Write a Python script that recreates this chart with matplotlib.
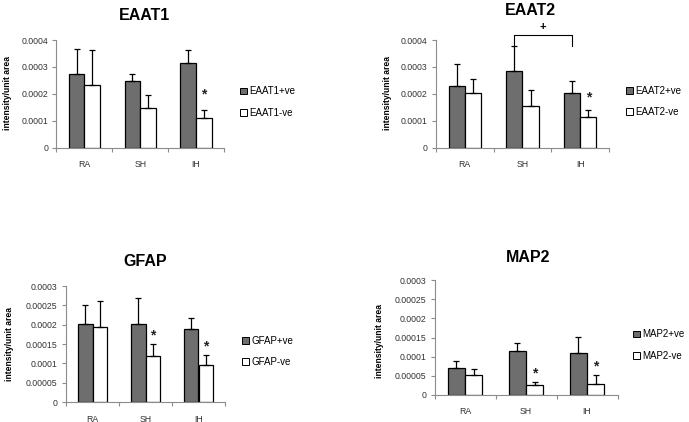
import matplotlib
matplotlib.use("Agg")
import matplotlib.pyplot as plt
from matplotlib.patches import Patch

plt.rcParams['font.family'] = ['Liberation Sans', 'DejaVu Sans']

categories = ["RA", "SH", "IH"]

eaat1_pos = [0.000272, 0.000248, 0.000315]
eaat1_pos_err = [0.000096, 0.000024, 0.000049]
eaat1_neg = [0.000233, 0.000149, 0.000109]
eaat1_neg_err = [0.000129, 0.000047, 0.000030]

eaat2_pos = [0.000229, 0.000286, 0.000202]
eaat2_pos_err = [0.000083, 0.000090, 0.000044]
eaat2_neg = [0.000202, 0.000155, 0.000115]
eaat2_neg_err = [0.000054, 0.000059, 0.000024]

gfap_pos = [0.000201, 0.000203, 0.000189]
gfap_pos_err = [0.000051, 0.000065, 0.000027]
gfap_neg = [0.000194, 0.000120, 0.000095]
gfap_neg_err = [0.000067, 0.000031, 0.000027]

map2_pos = [0.000070, 0.000116, 0.000109]
map2_pos_err = [0.000019, 0.000019, 0.000042]
map2_neg = [0.000051, 0.000026, 0.000030]
map2_neg_err = [0.000018, 0.000009, 0.000021]

eaat1_yticks = [0, 0.0001, 0.0002, 0.0003, 0.0004]
eaat1_ylabels = ["0", "0.0001", "0.0002", "0.0003", "0.0004"]
gfap_yticks = [0, 0.00005, 0.0001, 0.00015, 0.0002, 0.00025, 0.0003]
gfap_ylabels = ["0", "0.00005", "0.0001", "0.00015", "0.0002", "0.00025", "0.0003"]

# stars: (category index, y)
eaat1_stars = [(2, 0.000196)]
eaat2_stars = [(2, 0.000187)]
gfap_stars = [(1, 0.000173), (2, 0.000143)]
map2_stars = [(1, 0.000056), (2, 0.000074)]

W, H = 689, 422
fig = plt.figure(figsize=(W / 100, H / 100), dpi=100)

GRAY = "#6e6e6e"
AX = "#8c8c8c"


def fx(px):
    return px / W


def fy(py):
    return 1 - py / H


def panel(rect, name, pos, pos_err, neg, neg_err, yticks, ylabels, ymax,
          stars, title_xy, ylab_xy, leg_xy):
    left, right, top, bottom = rect
    ax = fig.add_axes([fx(left), fy(bottom), fx(right - left), (bottom - top) / H])
    x = list(range(len(categories)))
    bw = 0.28
    ekw = dict(elinewidth=0.9, capthick=0.9, capsize=2.5, ecolor="black")
    ax.bar([i - bw / 2 for i in x], pos, bw, color=GRAY, edgecolor="black",
           linewidth=0.9, yerr=[[0] * 3, pos_err], error_kw=ekw, zorder=2)
    ax.bar([i + bw / 2 for i in x], neg, bw, color="white", edgecolor="black",
           linewidth=0.9, yerr=[[0] * 3, neg_err], error_kw=ekw, zorder=2)
    ax.set_xlim(-0.5, 2.5)
    ax.set_ylim(0, ymax)
    ax.set_yticks(yticks)
    ax.set_yticklabels(ylabels)
    ax.set_xticks(x)
    ax.set_xticklabels(categories)
    ax.set_xticks([-0.5, 0.5, 1.5, 2.5], minor=True)
    ax.tick_params(axis="x", which="major", length=0, labelsize=6.3, pad=9, colors="#333333")
    ax.tick_params(axis="x", which="minor", length=3, color=AX, width=0.8)
    ax.tick_params(axis="y", length=3, color=AX, width=0.8, labelsize=6.3, pad=3)
    ax.tick_params(axis="y", colors=AX, labelcolor="#333333")
    for s in ["top", "right"]:
        ax.spines[s].set_visible(False)
    for s in ["left", "bottom"]:
        ax.spines[s].set_color(AX)
        ax.spines[s].set_linewidth(0.8)
    for ci, sy in stars:
        ax.text(ci + bw / 2, sy, "*", ha="center", va="center", fontsize=10,
                fontweight="bold", color="#222222")
    fig.text(fx(title_xy[0]), fy(title_xy[1]), name, ha="center", va="center",
             fontsize=11.5, fontweight="bold")
    fig.text(fx(ylab_xy[0]), fy(ylab_xy[1]), "intensity/unit area", ha="center",
             va="center", rotation=90, fontsize=6.2, fontweight="bold")
    handles = [Patch(facecolor=GRAY, edgecolor="black", linewidth=0.7, label=name + "+ve"),
               Patch(facecolor="white", edgecolor="black", linewidth=0.7, label=name + "-ve")]
    fig.legend(handles=handles, loc="center left",
               bbox_to_anchor=(fx(leg_xy[0]), fy(leg_xy[1])),
               frameon=False, fontsize=7, handlelength=0.7, handleheight=0.7,
               handletextpad=0.3, labelspacing=1.15, borderpad=0, borderaxespad=0)
    return ax


panel((56.5, 224, 40, 147.7), "EAAT1", eaat1_pos, eaat1_pos_err, eaat1_neg, eaat1_neg_err,
      eaat1_yticks, eaat1_ylabels, 0.0004, eaat1_stars, (145, 15.5), (8, 93), (240, 102))
ax2 = panel((436, 609, 40, 147.7), "EAAT2", eaat2_pos, eaat2_pos_err, eaat2_neg, eaat2_neg_err,
            eaat1_yticks, eaat1_ylabels, 0.0004, eaat2_stars, (530, 10.5), (387, 93), (626, 101.5))
panel((66, 225, 286, 402), "GFAP", gfap_pos, gfap_pos_err, gfap_neg, gfap_neg_err,
      gfap_yticks, gfap_ylabels, 0.0003, gfap_stars, (145, 261), (10, 344), (242, 351.5))
panel((434.5, 617.5, 280, 395), "MAP2", map2_pos, map2_pos_err, map2_neg, map2_neg_err,
      gfap_yticks, gfap_ylabels, 0.0003, map2_stars, (528, 257), (380, 341), (633, 345))

# significance bracket between SH and IH (EAAT2+ve)
bw = 0.28
bracket_y = 0.000419
bracket_drop = 0.000378
ax2.plot([1 - bw / 2, 1 - bw / 2, 2 - bw / 2, 2 - bw / 2],
         [bracket_drop, bracket_y, bracket_y, bracket_drop],
         color="black", linewidth=0.8, clip_on=False)
ax2.text(1.5 - bw / 2, 0.000449, "+", ha="center", va="center", fontsize=8,
         fontweight="bold", clip_on=False)

fig.savefig("out.png", dpi=100)
